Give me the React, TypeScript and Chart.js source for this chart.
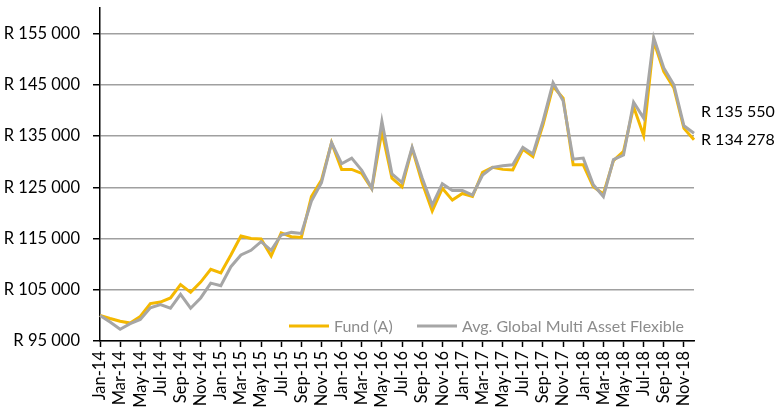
import React, { useEffect, useRef } from "react";
import { Chart, registerables } from "chart.js";

Chart.register(...registerables);

const months = ["Jan", "Feb", "Mar", "Apr", "May", "Jun", "Jul", "Aug", "Sep", "Oct", "Nov", "Dec"];
const years = ["14", "15", "16", "17", "18"];
const categories: string[] = years.flatMap((y) => months.map((m) => `${m}-${y}`));

const fundValues = [
  100000, 99400, 98850, 98500, 99800, 102300, 102600, 103400, 106000, 104500, 106500, 109000,
  108300, 111800, 115500, 115000, 114900, 111600, 116100, 115350, 115200, 123200, 126400, 133700,
  128500, 128500, 127700, 124700, 135900, 126800, 125100, 132600, 125900, 120400, 124800, 122500,
  123800, 123200, 127900, 128900, 128500, 128400, 132400, 131000, 137200, 144700, 142400, 129400,
  129400, 125100, 123700, 130200, 132000, 140700, 135100, 153500, 147600, 144400, 136500, 134278,
];

const avgValues = [
  100000, 98700, 97300, 98400, 99200, 101500, 102100, 101400, 104100, 101400, 103400, 106300,
  105800, 109500, 111800, 112700, 114400, 112700, 115700, 116200, 116000, 122300, 125900, 133700,
  129600, 130700, 128300, 124800, 137900, 127600, 125900, 132800, 126800, 121500, 125700, 124400,
  124400, 123500, 127400, 128900, 129200, 129400, 132800, 131500, 137900, 145400, 141900, 130500,
  130700, 125500, 123200, 130400, 131300, 141600, 138500, 154200, 148300, 145000, 137000, 135550,
];

const yTicks = [95000, 105000, 115000, 125000, 135000, 145000, 155000];
const seriesNames = ["Fund (A)", "Avg. Global Multi Asset Flexible"];
const endLabels = ["R 134 278", "R 135 550"];

const FUND_COLOR = "#F4B800";
const AVG_COLOR = "#A6A6A6";
const FONT = "Lato, 'Open Sans', sans-serif";

const fmtR = (v: number) => "R " + v.toLocaleString("en-US").replace(/,/g, " ");

export default function App() {
  const ref = useRef<HTMLCanvasElement | null>(null);

  useEffect(() => {
    document.body.style.margin = "0";
    const canvas = ref.current;
    if (!canvas) return;

    const overlay = {
      id: "overlay",
      afterDraw(chart: any) {
        const ctx = chart.ctx;
        const area = chart.chartArea;
        ctx.save();
        // legend
        ctx.font = `16px ${FONT}`;
        ctx.textBaseline = "middle";
        const ly = 326;
        const items = [
          { x: 289, color: FUND_COLOR, text: seriesNames[0] },
          { x: 417, color: AVG_COLOR, text: seriesNames[1] },
        ];
        items.forEach((it) => {
          ctx.strokeStyle = it.color;
          ctx.lineWidth = 3;
          ctx.beginPath();
          ctx.moveTo(it.x, ly);
          ctx.lineTo(it.x + 40, ly);
          ctx.stroke();
          ctx.fillStyle = "#8C8C8C";
          ctx.textAlign = "left";
          ctx.fillText(it.text, it.x + 45, ly + 1);
        });
        // end labels
        const fundMeta = chart.getDatasetMeta(1);
        const avgMeta = chart.getDatasetMeta(0);
        const fp = fundMeta.data[fundMeta.data.length - 1];
        const ap = avgMeta.data[avgMeta.data.length - 1];
        ctx.fillStyle = "#000";
        ctx.font = `16px ${FONT}`;
        ctx.fillText(endLabels[1], area.right + 7, ap.y - 21);
        ctx.fillText(endLabels[0], area.right + 7, fp.y);
        ctx.restore();
      },
    };

    const chart = new Chart(canvas, {
      type: "line",
      data: {
        labels: categories,
        datasets: [
          {
            label: seriesNames[1],
            data: avgValues,
            borderColor: AVG_COLOR,
            backgroundColor: AVG_COLOR,
            borderWidth: 3,
            pointRadius: 0,
            tension: 0,
            order: 0,
          },
          {
            label: seriesNames[0],
            data: fundValues,
            borderColor: FUND_COLOR,
            backgroundColor: FUND_COLOR,
            borderWidth: 3,
            pointRadius: 0,
            tension: 0,
            order: 1,
          },
        ],
      },
      options: {
        responsive: false,
        animation: false,
        layout: { padding: { left: 0, right: 81, top: 8, bottom: 0 } },
        plugins: {
          legend: { display: false },
          tooltip: { enabled: false },
        },
        scales: {
          x: {
            type: "category",
            offset: false,
            afterBuildTicks: (scale: any) => {
              scale.ticks = scale.ticks.filter((_t: any, i: number) => i % 2 === 0);
            },
            afterFit: (scale: any) => {
              scale.height = 78;
              scale.paddingLeft = 0;
              scale.paddingRight = 0;
            },
            grid: {
              drawOnChartArea: false,
              drawTicks: true,
              tickLength: 6,
              tickColor: "#000",
              tickWidth: 1.5,
            },
            border: { display: true, color: "#000", width: 1.5 },
            ticks: {
              autoSkip: false,
              maxRotation: 90,
              minRotation: 90,
              padding: 4,
              color: "#000",
              font: { family: FONT, size: 16.5 },
            },
          },
          y: {
            type: "linear",
            min: 95000,
            max: 160000,
            afterBuildTicks: (scale: any) => {
              scale.ticks = yTicks.map((v) => ({ value: v }));
            },
            afterFit: (scale: any) => {
              scale.width = 100;
              scale.paddingTop = 0;
              scale.paddingBottom = 0;
            },
            grid: {
              color: "#A0A0A0",
              lineWidth: 1.5,
              tickLength: 7,
              tickColor: "#000",
            },
            border: { display: true, color: "#000", width: 1.5 },
            ticks: {
              padding: 13,
              color: "#000",
              font: { family: FONT, size: 16.5 },
              callback: (v: any) => fmtR(Number(v)),
            },
          },
        },
      },
      plugins: [overlay],
    });

    return () => chart.destroy();
  }, []);

  return <canvas ref={ref} width={775} height={419} style={{ display: "block" }} />;
}
